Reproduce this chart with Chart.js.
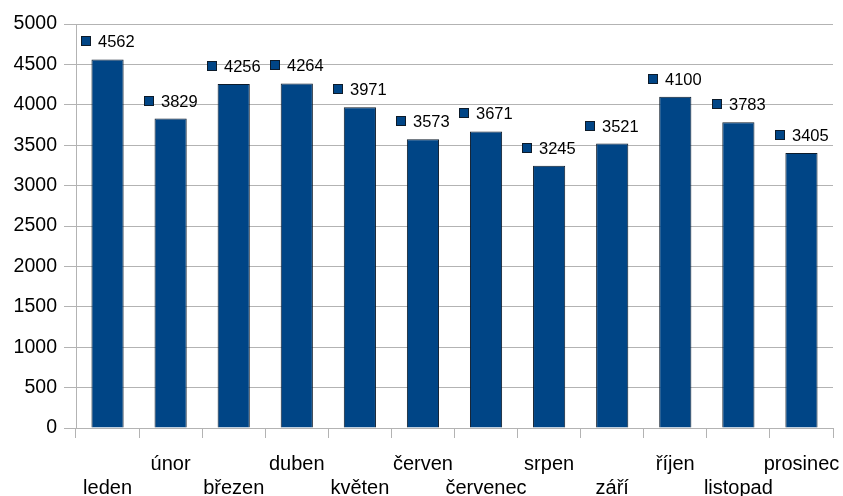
<!DOCTYPE html>
<html>
<head>
<meta charset="utf-8">
<script src="https://cdn.jsdelivr.net/npm/chart.js@4/dist/chart.umd.min.js"></script>
<style>
  html, body { margin: 0; padding: 0; background: #fff; }
  #wrap { width: 843px; height: 496px; position: relative; }
</style>
</head>
<body>
<div id="wrap"><canvas id="chart"></canvas></div>
<script>
// Měsíce a hodnoty
const months = ['leden', 'únor', 'březen', 'duben', 'květen', 'červen',
                'červenec', 'srpen', 'září', 'říjen', 'listopad', 'prosinec'];
const values = [4562, 3829, 4256, 4264, 3971, 3573, 3671, 3245, 3521, 4100, 3783, 3405];
const yTicks = [0, 500, 1000, 1500, 2000, 2500, 3000, 3500, 4000, 4500, 5000];

const barColor = '#004586';
const gridColor = '#b3b3b3';
const fontFamily = '"Liberation Sans", Arial, sans-serif';

// popisky hodnot se čtverečkem nad sloupci
const valueLabels = {
    id: 'valueLabels',
    afterDatasetsDraw(chart) {
        const ctx = chart.ctx;
        const meta = chart.getDatasetMeta(0);
        ctx.save();
        ctx.font = '16.5px ' + fontFamily;
        ctx.textBaseline = 'middle';
        ctx.textAlign = 'left';
        meta.data.forEach((bar, i) => {
            const txt = String(values[i]);
            const w = ctx.measureText(txt).width;
            const sq = 10, gap = 7;
            const start = Math.round(bar.x - (sq + gap + w) / 2);
            const cy = Math.round(bar.y - 18);
            ctx.fillStyle = barColor;
            ctx.fillRect(start, cy - sq / 2, sq, sq);
            ctx.strokeStyle = '#0d1b2a';
            ctx.lineWidth = 1;
            ctx.strokeRect(start + 0.5, cy - sq / 2 + 0.5, sq - 1, sq - 1);
            ctx.fillStyle = '#000';
            ctx.fillText(txt, start + sq + gap, cy + 1);
        });
        ctx.restore();
    }
};

new Chart(document.getElementById('chart'), {
    type: 'bar',
    data: {
        labels: months,
        datasets: [{
            data: values,
            backgroundColor: barColor,
            borderColor: '#0d1b2a',
            borderWidth: 1,
            barPercentage: 1,
            categoryPercentage: 0.51
        }]
    },
    options: {
        responsive: true,
        maintainAspectRatio: false,
        animation: false,
        layout: { padding: { top: 24, right: 10, left: 0, bottom: 0 } },
        plugins: { legend: { display: false }, tooltip: { enabled: false } },
        scales: {
            x: {
                offset: true,
                grid: { offset: true, drawOnChartArea: false, drawTicks: true, tickLength: 10, color: gridColor },
                border: { color: gridColor },
                ticks: {
                    color: '#000',
                    maxRotation: 0,
                    autoSkip: false,
                    padding: 14,
                    font: { family: fontFamily, size: 20, lineHeight: 1.22 },
                    callback: (v, i) => i % 2 === 0 ? ['', months[i]] : [months[i]]
                },
                afterFit: s => {
                    s.height = 68;
                    s.paddingLeft = 0;
                    s.paddingRight = 0;
                }
            },
            y: {
                min: 0,
                max: 5000,
                afterBuildTicks: s => { s.ticks = yTicks.map(v => ({ value: v })); },
                grid: { color: gridColor, tickLength: 12 },
                border: { color: gridColor },
                ticks: {
                    color: '#000',
                    padding: 7,
                    font: { family: fontFamily, size: 19.5 },
                    callback: v => String(v)
                },
                afterFit: s => { s.width = 76; }
            }
        }
    },
    plugins: [valueLabels]
});
</script>
</body>
</html>
